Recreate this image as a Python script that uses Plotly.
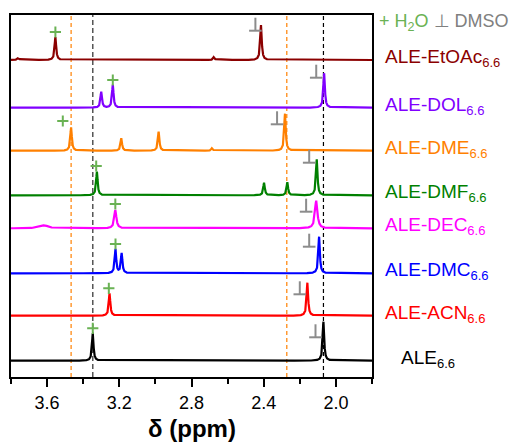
import numpy as np
import plotly.graph_objects as go

# Stacked 1H NMR spectra of ALE electrolytes, 6.6 m
samples = ["ALE-EtOAc", "ALE-DOL", "ALE-DME", "ALE-DMF", "ALE-DEC", "ALE-DMC", "ALE-ACN", "ALE"]
colors = ["#8B0000", "#8000FF", "#FF8000", "#008000", "#FF00FF", "#0000FF", "#FF0000", "#000000"]
# vertical stacking offsets (arbitrary intensity units)
offsets = [317.0, 269.3, 226.3, 181.7, 148.7, 103.7, 61.3, 16.3]

# peak lists: (shift / ppm, intensity, half width / ppm)
peaks = [
    [(3.760, 2.0, 0.006), (3.554, 23.0, 0.005), (2.676, 3.0, 0.005), (2.415, 35.0, 0.005)],
    [(3.300, 16.0, 0.005), (3.236, 23.0, 0.005), (2.065, 34.5, 0.005)],
    [(3.467, 23.4, 0.005), (3.189, 12.4, 0.005), (2.982, 19.0, 0.005), (2.686, 2.5, 0.005), (2.282, 37.0, 0.005)],
    [(3.324, 23.6, 0.005), (2.398, 12.6, 0.005), (2.269, 13.0, 0.005), (2.106, 36.0, 0.005)],
    [(3.615, 3.0, 0.025), (3.222, 18.3, 0.007), (2.109, 27.6, 0.008)],
    [(3.221, 24.0, 0.005), (3.187, 20.0, 0.005), (2.093, 36.6, 0.005)],
    [(3.254, 22.4, 0.005), (2.158, 33.0, 0.005)],
    [(3.347, 27.4, 0.005), (2.069, 39.0, 0.005)],
]

# H2O (+) and DMSO (⊥) assignment markers: shift and height above baseline
h2o_ppm = [3.554, 3.236, 3.513, 3.328, 3.222, 3.221, 3.258, 3.347]
h2o_h = [28.0, 27.7, 29.7, 29.3, 24.3, 29.3, 27.4, 32.4]
dmso_ppm = [2.446, 2.109, 2.326, 2.148, 2.165, 2.148, 2.200, 2.113]
dmso_h = [29.3, 30.0, 26.4, 32.6, 16.6, 26.6, 21.4, 23.4]

# reference shift guides
guide_orange = [3.467, 2.272]
guide_h2o = 3.347
guide_dmso = 2.069

x_range = [3.8, 1.8]
tick_vals = [3.6, 3.2, 2.8, 2.4, 2.0]

FONT = "Liberation Sans, Arial, sans-serif"
GREEN = "#6AB254"
GRAY = "#8C8C8C"

ppm = np.linspace(1.8, 3.8, 4001)


def spectrum(plist):
    y = np.zeros_like(ppm)
    for c, h, w in plist:
        y += h / (1.0 + ((ppm - c) / w) ** 2)
    return y


fig = go.Figure()

for name, col, off, pl in zip(samples, colors, offsets, peaks):
    fig.add_trace(go.Scatter(x=ppm, y=spectrum(pl) + off, mode="lines",
                             line=dict(color=col, width=2.2), hoverinfo="skip",
                             showlegend=False))

# + markers (H2O)
fig.add_trace(go.Scatter(
    x=h2o_ppm, y=[o + h for o, h in zip(offsets, h2o_h)], mode="markers",
    marker=dict(symbol="cross-thin", size=8, line=dict(color=GREEN, width=2)),
    showlegend=False, hoverinfo="skip"))

# ⊥ markers (DMSO): base bar plus vertical stem rising from its centre
bar_y = [o + h for o, h in zip(offsets, dmso_h)]
fig.add_trace(go.Scatter(
    x=dmso_ppm, y=bar_y, mode="markers",
    marker=dict(symbol="line-ew", size=9, line=dict(color=GRAY, width=2)),
    showlegend=False, hoverinfo="skip"))
fig.add_trace(go.Scatter(
    x=dmso_ppm, y=[b + 6.5 for b in bar_y], mode="markers",
    marker=dict(symbol="line-ns", size=9.3, line=dict(color=GRAY, width=2)),
    showlegend=False, hoverinfo="skip"))

# dashed guides
for g in guide_orange:
    fig.add_shape(type="line", x0=g, x1=g, y0=0, y1=1, yref="paper", layer="below",
                  line=dict(color="#FF8000", width=1.2, dash="4px,3px"))
fig.add_shape(type="line", x0=guide_h2o, x1=guide_h2o, y0=0, y1=1, yref="paper", layer="below",
              line=dict(color="#555555", width=1.5, dash="5px,3px"))
fig.add_shape(type="line", x0=guide_dmso, x1=guide_dmso, y0=0, y1=1, yref="paper", layer="below",
              line=dict(color="#000000", width=1.2, dash="4px,3px"))

# sample labels
for i, (name, col, off) in enumerate(zip(samples, colors, offsets)):
    shift = 27 if name == "ALE" else 11
    fig.add_annotation(
        x=1, xref="paper", y=off + 2, yref="y", xanchor="left", yanchor="middle",
        xshift=shift, showarrow=False,
        text=f'{name}<sub><span style="font-size:13px">6.6</span></sub>',
        font=dict(family=FONT, size=19, color=col))

# marker key
fig.add_annotation(
    x=1, xref="paper", y=1, yref="paper", xanchor="left", yanchor="middle",
    xshift=5, yshift=-7, showarrow=False,
    text=(f'<span style="color:{GREEN}">+ H<sub>2</sub>O</span> '
          f'<span style="color:#808080">⊥ DMSO</span>'),
    font=dict(family=FONT, size=18))

# axis title
fig.add_annotation(
    x=0.5, xref="paper", y=-0.141, yref="paper", xanchor="center", yanchor="middle",
    showarrow=False, text="<b>δ (ppm)</b>", font=dict(family=FONT, size=24, color="black"))

fig.update_xaxes(
    range=x_range, showline=True, mirror=True, linecolor="black", linewidth=2,
    showgrid=False, zeroline=False, ticks="outside", ticklen=8, tickwidth=1.5,
    tickcolor="black", tickvals=tick_vals, ticktext=[f"{v:.1f}" for v in tick_vals],
    tickfont=dict(family=FONT, size=18, color="black"),
    minor=dict(tickvals=[3.8, 3.4, 3.0, 2.6, 2.2, 1.8], ticks="outside", ticklen=5,
               tickwidth=1.5, tickcolor="black"))
fig.update_yaxes(
    range=[0, 362], showline=True, mirror=True, linecolor="black", linewidth=2,
    showgrid=False, zeroline=False, showticklabels=False, ticks="")

fig.update_layout(
    width=511, height=444, margin=dict(l=11, r=139, t=15, b=67),
    plot_bgcolor="white", paper_bgcolor="white", font=dict(family=FONT))

fig.write_html("out.html")
